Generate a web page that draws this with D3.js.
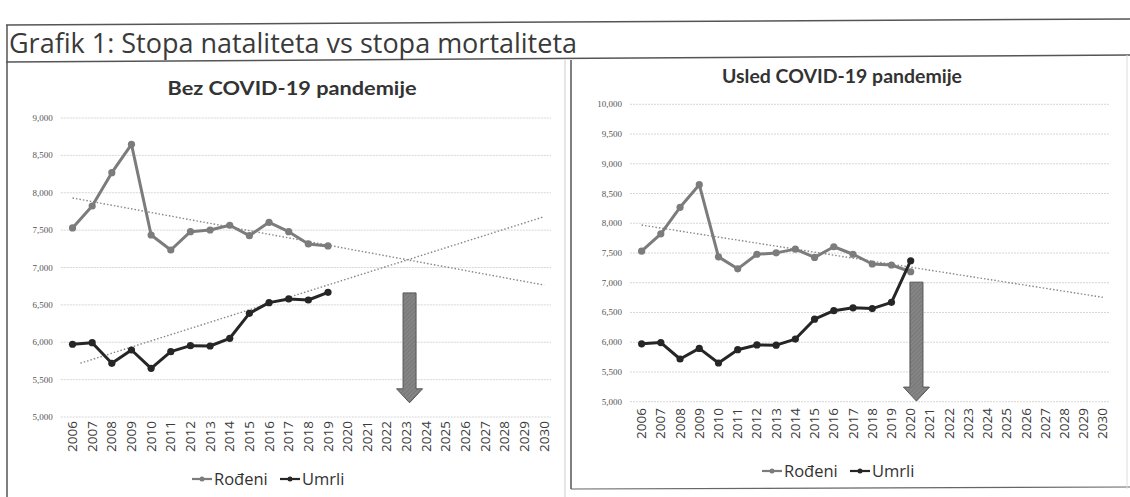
<!DOCTYPE html>
<html>
<meta charset="utf-8">
<style>
  body { margin: 0; background: #fff; }
  svg { display: block; }
  .ylab { font-family: "Liberation Serif", serif; font-size: 9px; fill: #555; }
  .xlab { font-family: "Open Sans", sans-serif; font-size: 13.5px; fill: #3a3a3a; }
  .ptitle { font-family: Lato, sans-serif; font-weight: bold; font-size: 18px; fill: #333; }
  .leg { font-family: "Open Sans", sans-serif; font-size: 16.5px; fill: #333; }
</style>
<svg width="1130" height="497"></svg>
<script src="https://d3js.org/d3.v7.min.js"></script>
<script>
  // kategorije (godine)
  var years = [2006, 2007, 2008, 2009, 2010, 2011, 2012, 2013, 2014, 2015, 2016, 2017,
    2018, 2019, 2020, 2021, 2022, 2023, 2024, 2025, 2026, 2027, 2028, 2029, 2030];

  // Bez COVID-19: 2006-2019
  var rodjeni = [7530, 7823, 8268, 8648, 7435, 7234, 7479, 7502, 7565, 7426, 7605, 7479, 7315, 7288];
  var umrli = [5973, 5994, 5718, 5896, 5651, 5874, 5954, 5950, 6053, 6387, 6530, 6579, 6565, 6668];

  // Usled COVID-19: 2006-2020
  var rodjeniCovid = [7530, 7823, 8268, 8648, 7435, 7234, 7479, 7502, 7565, 7426, 7605, 7479, 7315, 7298, 7185];
  var umrliCovid = [5973, 5994, 5718, 5896, 5651, 5874, 5954, 5950, 6053, 6387, 6530, 6579, 6565, 6671, 7370];

  // trend linije [godina, vrijednost] ocitane sa slike
  var trendRodjeni = [[2006, 7930], [2030, 6765]];
  var trendUmrli = [[2006.4, 5720], [2030, 7680]];
  var trendRodjeniCovid = [[2006, 7970], [2030, 6755]];

  // strelice [godina, vrh, dno]
  var arrowLeft = [2023.15, 6660, 5190];
  var arrowRight = [2020.3, 7010, 5010];

  var ticksLeft = [5000, 5500, 6000, 6500, 7000, 7500, 8000, 8500, 9000];
  var ticksRight = [5000, 5500, 6000, 6500, 7000, 7500, 8000, 8500, 9000, 9500, 10000];

  var svg = d3.select("svg");
  var defs = svg.append("defs");
  var pat = defs.append("pattern").attr("id", "hatch").attr("width", 3).attr("height", 3)
    .attr("patternUnits", "userSpaceOnUse").attr("patternTransform", "rotate(45)");
  pat.append("rect").attr("width", 3).attr("height", 3).attr("fill", "#858585");
  pat.append("line").attr("x1", 0).attr("y1", 0).attr("x2", 0).attr("y2", 3)
    .attr("stroke", "#6a6a6a").attr("stroke-width", 1);

  // okvir i naslov
  svg.append("line").attr("x1", 6).attr("y1", 25).attr("x2", 1130).attr("y2", 19)
    .attr("stroke", "#555").attr("stroke-width", 1.5);
  svg.append("line").attr("x1", 6).attr("y1", 62).attr("x2", 1130).attr("y2", 55)
    .attr("stroke", "#555").attr("stroke-width", 1.5);
  svg.append("line").attr("x1", 7).attr("y1", 25).attr("x2", 7).attr("y2", 497)
    .attr("stroke", "#555").attr("stroke-width", 1.5);
  svg.append("line").attr("x1", 565).attr("y1", 60).attr("x2", 565).attr("y2", 497)
    .attr("stroke", "#ccc").attr("stroke-width", 1);
  svg.append("line").attr("x1", 571).attr("y1", 60).attr("x2", 571).attr("y2", 489)
    .attr("stroke", "#555").attr("stroke-width", 1.5);
  svg.append("line").attr("x1", 571).attr("y1", 489).attr("x2", 1130).attr("y2", 487)
    .attr("stroke", "#666").attr("stroke-width", 1.2);
  svg.append("line").attr("x1", 1127).attr("y1", 55).attr("x2", 1127).attr("y2", 489)
    .attr("stroke", "#ddd").attr("stroke-width", 1);

  svg.append("text").attr("x", 9).attr("y", 53)
    .attr("textLength", 568).attr("lengthAdjust", "spacingAndGlyphs")
    .style("font-family", "'Open Sans', sans-serif").style("font-size", "26.5px").style("fill", "#3a3a3a")
    .text("Grafik 1: Stopa nataliteta vs stopa mortaliteta");

  function panel(cfg) {
    var g = svg.append("g");
    var x = d3.scaleLinear().domain([2005.5, 2030.5]).range(cfg.xr);
    var y = d3.scaleLinear().domain(cfg.yd).range(cfg.yr);

    g.append("text").attr("class", "ptitle").attr("x", cfg.titleX).attr("y", cfg.titleY)
      .attr("text-anchor", "middle").attr("textLength", cfg.titleW).attr("lengthAdjust", "spacingAndGlyphs")
      .text(cfg.title);

    // mreza
    g.selectAll(".grid").data(cfg.ticks).enter().append("line")
      .attr("x1", cfg.xr[0] - 2).attr("x2", cfg.xr[1] - 3)
      .attr("y1", function (d) { return y(d); }).attr("y2", function (d) { return y(d); })
      .attr("stroke", "#d6d6d6").attr("stroke-width", 1).attr("stroke-dasharray", "2,1");

    g.selectAll(".ylab").data(cfg.ticks).enter().append("text").attr("class", "ylab")
      .attr("x", cfg.xr[0] - 10).attr("y", function (d) { return y(d) + 3; })
      .attr("text-anchor", "end").text(function (d) { return d3.format(",")(d); });

    g.selectAll(".xlab").data(years).enter().append("text").attr("class", "xlab")
      .attr("transform", function (d) { return "translate(" + (x(d) + 4.5) + "," + cfg.xlabY + ") rotate(-90)"; })
      .attr("text-anchor", "end").text(function (d) { return d; });

    var tl = d3.line().x(function (d) { return x(d[0]); }).y(function (d) { return y(d[1]); });
    cfg.trends.forEach(function (t) {
      g.append("path").attr("d", tl(t)).attr("fill", "none")
        .attr("stroke", "#888").attr("stroke-width", 1.4).attr("stroke-dasharray", "1.5,2");
    });

    // strelica
    var a = cfg.arrow, ax = x(a[0]), at = y(a[1]), ab = y(a[2]);
    var sw = 6.5, hw = 13, hh = 14;
    g.append("path")
      .attr("d", "M" + (ax - sw) + "," + at + "H" + (ax + sw) + "V" + (ab - hh) + "H" + (ax + hw) +
        "L" + ax + "," + ab + "L" + (ax - hw) + "," + (ab - hh) + "H" + (ax - sw) + "Z")
      .attr("fill", "url(#hatch)").attr("stroke", "#555").attr("stroke-width", 1);

    var line = d3.line().x(function (d, i) { return x(years[i]); }).y(function (d) { return y(d); });
    [[cfg.rod, "#7c7c7c"], [cfg.umr, "#262626"]].forEach(function (s) {
      g.append("path").attr("d", line(s[0])).attr("fill", "none")
        .attr("stroke", s[1]).attr("stroke-width", 3).attr("stroke-linejoin", "round");
      g.selectAll(null).data(s[0]).enter().append("circle")
        .attr("cx", function (d, i) { return x(years[i]); }).attr("cy", function (d) { return y(d); })
        .attr("r", 3.6).attr("fill", s[1]);
    });

    // legenda
    var lg = g.append("g").attr("transform", "translate(" + cfg.legX + "," + cfg.legY + ")");
    [["Rođeni", "#7c7c7c", 0], ["Umrli", "#262626", 88]].forEach(function (l) {
      lg.append("line").attr("x1", l[2]).attr("x2", l[2] + 20).attr("y1", 0).attr("y2", 0)
        .attr("stroke", l[1]).attr("stroke-width", 2.2);
      lg.append("circle").attr("cx", l[2] + 10).attr("cy", 0).attr("r", 2.5).attr("fill", l[1]);
      lg.append("text").attr("class", "leg").attr("x", l[2] + 22).attr("y", 6).text(l[0]);
    });
  }

  panel({
    title: "Bez COVID-19 pandemije", titleX: 292, titleY: 95, titleW: 249,
    xr: [62.7, 554], yd: [5000, 9000], yr: [417, 118], ticks: ticksLeft, xlabY: 421,
    rod: rodjeni, umr: umrli, trends: [trendRodjeni, trendUmrli], arrow: arrowLeft,
    legX: 192, legY: 479
  });

  panel({
    title: "Usled COVID-19 pandemije", titleX: 842, titleY: 83, titleW: 240,
    xr: [632, 1112.5], yd: [5000, 10000], yr: [401.7, 104.3], ticks: ticksRight, xlabY: 408,
    rod: rodjeniCovid, umr: umrliCovid, trends: [trendRodjeniCovid], arrow: arrowRight,
    legX: 762, legY: 471
  });
</script>
</html>
